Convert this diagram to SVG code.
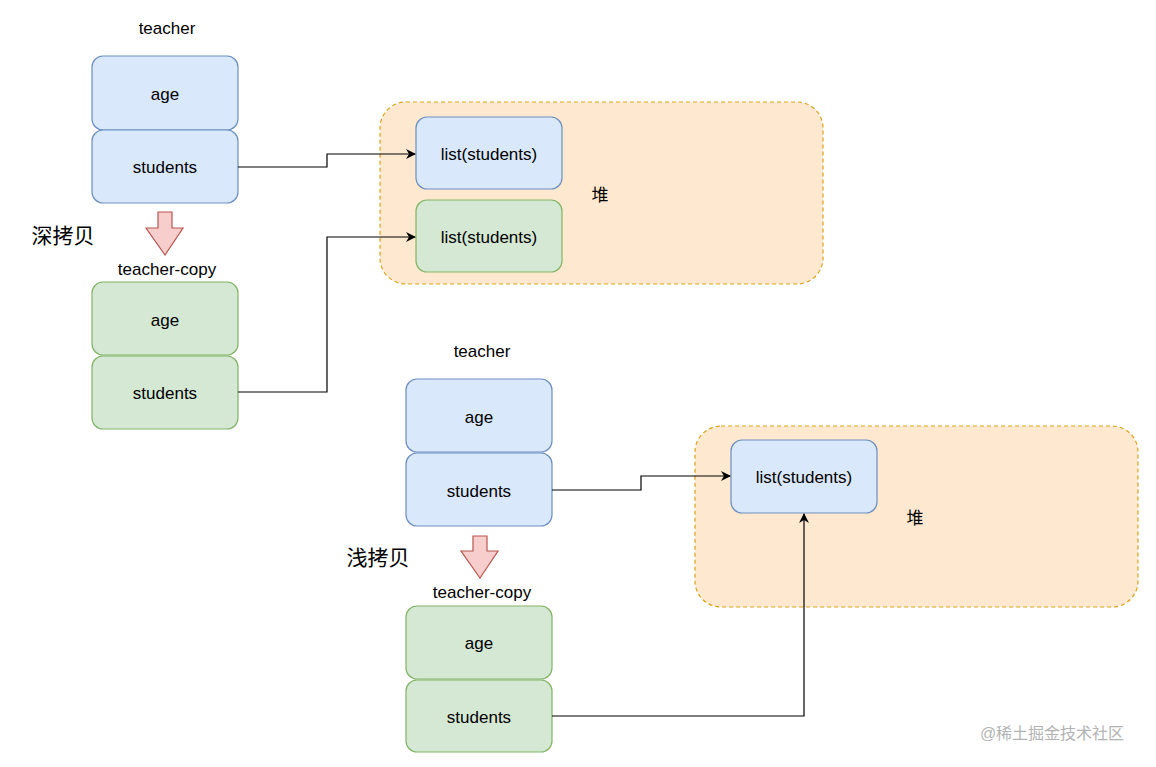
<svg xmlns="http://www.w3.org/2000/svg" width="1156" height="767" viewBox="0 0 1156 767">
<style>
text{font-family:"Liberation Sans","Noto Sans CJK SC",sans-serif;fill:#000;text-anchor:middle;dominant-baseline:central}
.t{font-size:17px}
.cn{font-size:21px}
.h{font-size:17px}
.blue{fill:#dae8fc;stroke:#6c8ebf;stroke-width:1.2}
.green{fill:#d5e8d4;stroke:#82b366;stroke-width:1.2}
.heap{fill:#ffe6cc;stroke:#d79b00;stroke-width:1.2;stroke-dasharray:4 3;opacity:.9}
.barrow{fill:#f8cecc;stroke:#b85450;stroke-width:1.2}
.conn{fill:none;stroke:#000;stroke-width:1.2}
</style>
<defs>
<marker id="ah" viewBox="0 0 10 10" refX="9" refY="5" markerWidth="10" markerHeight="10" markerUnits="userSpaceOnUse" orient="auto">
<path d="M0,0 L10,5 L0,10 L3,5 Z" fill="#000"/>
</marker>
</defs>
<rect width="1156" height="767" fill="#fff"/>

<g id="heap1"><rect class="heap" x="380" y="102" width="443" height="182" rx="26"/><text class="h" x="600" y="195">堆</text></g>
<g id="heap2"><rect class="heap" x="695" y="426" width="443" height="181" rx="26"/><text class="h" x="915" y="518">堆</text></g>

<g id="teacher1">
<text class="t" x="167" y="28">teacher</text>
<g id="t1-age"><rect class="blue" x="92" y="56" width="146" height="74" rx="11"/><text class="t" x="165" y="94">age</text></g>
<g id="t1-students"><rect class="blue" x="92" y="130" width="146" height="73" rx="11"/><text class="t" x="165" y="167">students</text></g>
</g>
<g id="deepcopy-arrow"><path class="barrow" d="M158,212 H172 V228 H183 L165,255 L146,228 H158 Z"/><text class="cn" x="63" y="235">深拷贝</text></g>
<g id="teachercopy1">
<text class="t" x="167" y="269">teacher-copy</text>
<g id="tc1-age"><rect class="green" x="92" y="282" width="146" height="73" rx="11"/><text class="t" x="165" y="320">age</text></g>
<g id="tc1-students"><rect class="green" x="92" y="356" width="146" height="73" rx="11"/><text class="t" x="165" y="393">students</text></g>
</g>
<g id="list1"><rect class="blue" x="416" y="117" width="146" height="72" rx="11"/><text class="t" x="489" y="154">list(students)</text></g>
<g id="list2"><rect class="green" x="416" y="200" width="146" height="72" rx="11"/><text class="t" x="489" y="237">list(students)</text></g>

<g id="teacher2">
<text class="t" x="482" y="351">teacher</text>
<g id="t2-age"><rect class="blue" x="406" y="379" width="146" height="73" rx="11"/><text class="t" x="479" y="417">age</text></g>
<g id="t2-students"><rect class="blue" x="406" y="453" width="146" height="73" rx="11"/><text class="t" x="479" y="491">students</text></g>
</g>
<g id="shallowcopy-arrow"><path class="barrow" d="M473,536 H487 V551 H498 L480,578 L461,551 H473 Z"/><text class="cn" x="378" y="557">浅拷贝</text></g>
<g id="teachercopy2">
<text class="t" x="482" y="592">teacher-copy</text>
<g id="tc2-age"><rect class="green" x="406" y="606" width="146" height="73" rx="11"/><text class="t" x="479" y="643">age</text></g>
<g id="tc2-students"><rect class="green" x="406" y="680" width="146" height="72" rx="11"/><text class="t" x="479" y="717">students</text></g>
</g>
<g id="list3"><rect class="blue" x="731" y="440" width="146" height="73" rx="11"/><text class="t" x="804" y="477">list(students)</text></g>

<g id="connectors">
<path class="conn" marker-end="url(#ah)" d="M238,167 H327 V154 H415"/>
<path class="conn" marker-end="url(#ah)" d="M238,392 H327 V237 H415"/>
<path class="conn" marker-end="url(#ah)" d="M552,490 H641 V476 H730"/>
<path class="conn" marker-end="url(#ah)" d="M552,716 H804 V514"/>
</g>

<text x="1052" y="733" style="font-size:16px;fill:#b3b3b3">@稀土掘金技术社区</text>
</svg>
